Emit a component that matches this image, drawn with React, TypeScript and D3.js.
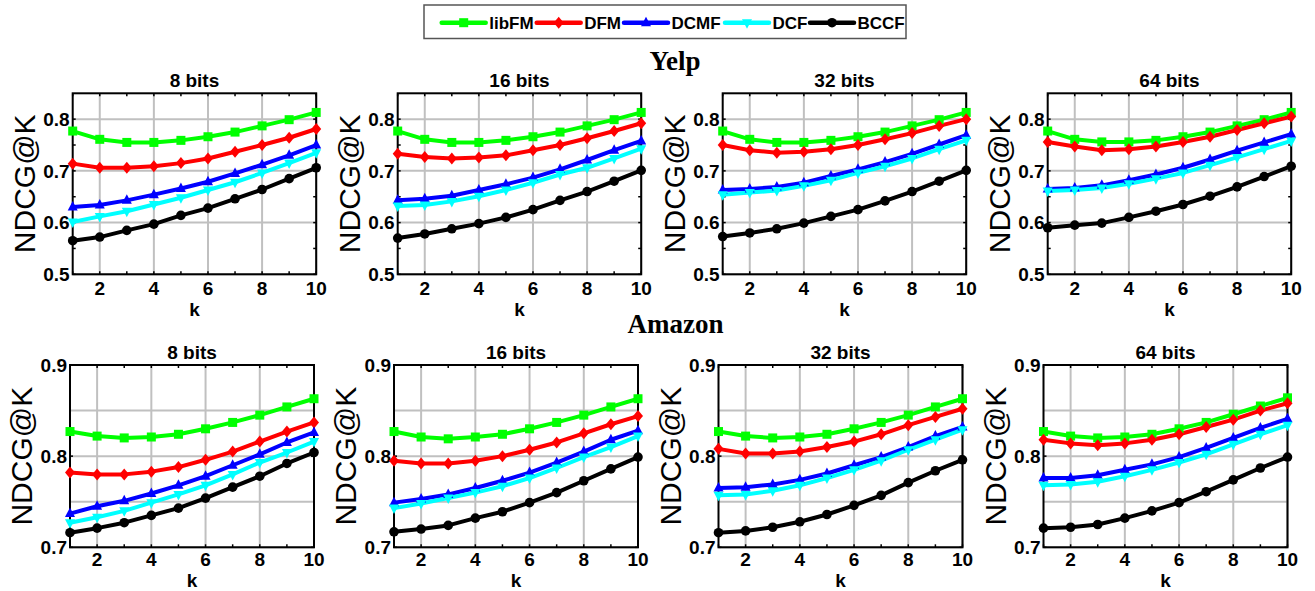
import React from "react";
import * as d3 from "d3";

const ks = [1, 2, 3, 4, 5, 6, 7, 8, 9, 10];
const methods = ["libFM", "DFM", "DCMF", "DCF", "BCCF"];
const colors = ["#00ff00", "#ff0000", "#0000ff", "#00ffff", "#000000"];
const bitLabels = ["8 bits", "16 bits", "32 bits", "64 bits"];
const datasets = ["Yelp", "Amazon"];
const yelpTicks = [0.5, 0.6, 0.7, 0.8];
const yelpMinor = [0.55, 0.65, 0.75];
const amazonTicks = [0.7, 0.8, 0.9];
const amazonGrid = [0.7, 0.75, 0.8, 0.85, 0.9];
const xTicks = [2, 4, 6, 8, 10];

// Yelp: [bits][method][k]
const yelp8 = [
  [0.777, 0.761, 0.755, 0.755, 0.759, 0.766, 0.775, 0.787, 0.799, 0.813],
  [0.714, 0.706, 0.706, 0.709, 0.715, 0.724, 0.737, 0.75, 0.764, 0.781],
  [0.63, 0.634, 0.643, 0.654, 0.666, 0.679, 0.695, 0.712, 0.73, 0.75],
  [0.601, 0.612, 0.622, 0.635, 0.648, 0.663, 0.678, 0.696, 0.715, 0.735],
  [0.565, 0.572, 0.585, 0.597, 0.614, 0.628, 0.646, 0.664, 0.685, 0.706],
];
const yelp16 = [
  [0.777, 0.761, 0.755, 0.755, 0.759, 0.766, 0.775, 0.787, 0.799, 0.813],
  [0.733, 0.727, 0.724, 0.726, 0.73, 0.74, 0.75, 0.763, 0.777, 0.792],
  [0.643, 0.646, 0.652, 0.663, 0.674, 0.687, 0.703, 0.721, 0.74, 0.758],
  [0.632, 0.634, 0.641, 0.651, 0.663, 0.677, 0.693, 0.706, 0.724, 0.743],
  [0.57, 0.578, 0.588, 0.598, 0.61, 0.625, 0.643, 0.66, 0.68, 0.701],
];
const yelp32 = [
  [0.777, 0.761, 0.755, 0.755, 0.759, 0.766, 0.775, 0.787, 0.799, 0.813],
  [0.75, 0.74, 0.735, 0.737, 0.742, 0.75, 0.761, 0.773, 0.787, 0.8],
  [0.663, 0.665, 0.669, 0.677, 0.69, 0.703, 0.717, 0.733, 0.751, 0.769],
  [0.654, 0.658, 0.662, 0.671, 0.682, 0.696, 0.709, 0.724, 0.742, 0.759],
  [0.573, 0.58, 0.588, 0.599, 0.612, 0.625, 0.642, 0.66, 0.68, 0.701],
];
const yelp64 = [
  [0.777, 0.761, 0.756, 0.756, 0.759, 0.766, 0.775, 0.787, 0.799, 0.813],
  [0.756, 0.747, 0.74, 0.742, 0.747, 0.756, 0.766, 0.779, 0.792, 0.805],
  [0.665, 0.667, 0.672, 0.682, 0.693, 0.706, 0.722, 0.739, 0.755, 0.771],
  [0.661, 0.663, 0.667, 0.675, 0.685, 0.696, 0.711, 0.726, 0.742, 0.758],
  [0.59, 0.595, 0.599, 0.61, 0.622, 0.635, 0.651, 0.669, 0.689, 0.709],
];
const amazon8 = [
  [0.827, 0.822, 0.82, 0.821, 0.824, 0.83, 0.837, 0.845, 0.854, 0.863],
  [0.782, 0.78, 0.78, 0.783, 0.788, 0.796, 0.805, 0.816, 0.827, 0.837],
  [0.737, 0.745, 0.751, 0.759, 0.768, 0.778, 0.79, 0.802, 0.815, 0.826],
  [0.727, 0.733, 0.74, 0.749, 0.758, 0.768, 0.78, 0.793, 0.804, 0.816],
  [0.716, 0.721, 0.727, 0.735, 0.743, 0.754, 0.766, 0.778, 0.792, 0.804],
];
const amazon16 = [
  [0.827, 0.821, 0.819, 0.821, 0.824, 0.83, 0.837, 0.845, 0.854, 0.863],
  [0.795, 0.792, 0.792, 0.795, 0.8, 0.807, 0.815, 0.825, 0.835, 0.844],
  [0.749, 0.753, 0.758, 0.765, 0.773, 0.782, 0.793, 0.805, 0.818, 0.828],
  [0.743, 0.748, 0.754, 0.76, 0.767, 0.776, 0.787, 0.799, 0.81, 0.822],
  [0.717, 0.72, 0.724, 0.732, 0.739, 0.749, 0.76, 0.773, 0.786, 0.799],
];
const amazon32 = [
  [0.827, 0.822, 0.82, 0.821, 0.824, 0.83, 0.837, 0.845, 0.854, 0.863],
  [0.808, 0.803, 0.803, 0.805, 0.81, 0.816, 0.824, 0.834, 0.843, 0.852],
  [0.765, 0.766, 0.769, 0.774, 0.781, 0.79, 0.799, 0.81, 0.822, 0.832],
  [0.757, 0.758, 0.762, 0.768, 0.776, 0.785, 0.795, 0.807, 0.818, 0.829],
  [0.716, 0.718, 0.722, 0.728, 0.736, 0.746, 0.757, 0.771, 0.784, 0.796],
];
const amazon64 = [
  [0.827, 0.822, 0.82, 0.821, 0.824, 0.83, 0.837, 0.846, 0.855, 0.864],
  [0.818, 0.814, 0.812, 0.814, 0.818, 0.824, 0.832, 0.84, 0.85, 0.858],
  [0.776, 0.776, 0.779, 0.785, 0.791, 0.799, 0.809, 0.82, 0.831, 0.841],
  [0.768, 0.769, 0.772, 0.778, 0.785, 0.793, 0.802, 0.813, 0.824, 0.834],
  [0.721, 0.722, 0.725, 0.732, 0.74, 0.749, 0.761, 0.774, 0.787, 0.799],
];

const yelpData = [yelp8, yelp16, yelp32, yelp64];
const amazonData = [amazon8, amazon16, amazon32, amazon64];

const SANS = "'Liberation Sans', Arial, sans-serif";
const SERIF = "'Liberation Serif', 'Times New Roman', serif";
const GRID = "#c0c0c0";

function Marker({ i, x, y }: { i: number; x: number; y: number }) {
  const c = colors[i];
  if (i === 0) return <rect x={x - 4.5} y={y - 4.5} width={9} height={9} fill={c} />;
  if (i === 1)
    return <path d={`M${x},${y - 6}L${x + 5},${y}L${x},${y + 6}L${x - 5},${y}Z`} fill={c} />;
  if (i === 2)
    return <path d={`M${x},${y - 6}L${x + 5},${y + 3.5}L${x - 5},${y + 3.5}Z`} fill={c} />;
  if (i === 3)
    return <path d={`M${x},${y + 6}L${x + 5},${y - 3.5}L${x - 5},${y - 3.5}Z`} fill={c} />;
  return <circle cx={x} cy={y} r={4.8} fill={c} />;
}

type PanelProps = {
  left: number;
  top: number;
  width: number;
  height: number;
  domain: [number, number];
  ticks: number[];
  grid: number[];
  minor: number[];
  data: number[][];
  title: string;
  tickOff: number;
  kOff: number;
};

function Panel(p: PanelProps) {
  const x = d3.scaleLinear().domain([1, 10]).range([p.left, p.left + p.width]);
  const y = d3.scaleLinear().domain(p.domain).range([p.top + p.height, p.top]);
  const line = d3
    .line<number>()
    .x((_, j) => x(ks[j]))
    .y((v) => y(v));
  const bottom = p.top + p.height;
  const right = p.left + p.width;
  return (
    <g>
      {xTicks.map((t) => (
        <line key={"gx" + t} x1={x(t)} x2={x(t)} y1={p.top} y2={bottom} stroke={GRID} strokeWidth={2} />
      ))}
      {p.grid.map((t) => (
        <line key={"gy" + t} x1={p.left} x2={right} y1={y(t)} y2={y(t)} stroke={GRID} strokeWidth={2} />
      ))}
      {ks.map((t) => (
        <g key={"xt" + t}>
          <line x1={x(t)} x2={x(t)} y1={bottom} y2={bottom - 3} stroke="#000" strokeWidth={1.5} />
          <line x1={x(t)} x2={x(t)} y1={p.top} y2={p.top + 3} stroke="#000" strokeWidth={1.5} />
        </g>
      ))}
      {[...p.ticks, ...p.minor].map((t) => (
        <g key={"yt" + t}>
          <line x1={p.left} x2={p.left + 3} y1={y(t)} y2={y(t)} stroke="#000" strokeWidth={1.5} />
          <line x1={right} x2={right - 3} y1={y(t)} y2={y(t)} stroke="#000" strokeWidth={1.5} />
        </g>
      ))}
      <rect x={p.left} y={p.top} width={p.width} height={p.height} fill="none" stroke="#000" strokeWidth={2} />
      {p.ticks.map((t) => (
        <text key={"yl" + t} x={p.left - 3} y={y(t) + 6.8} textAnchor="end" fontFamily={SANS} fontWeight="bold" fontSize={19}>
          {t.toFixed(1)}
        </text>
      ))}
      {xTicks.map((t) => (
        <text key={"xl" + t} x={x(t)} y={bottom + p.tickOff} textAnchor="middle" fontFamily={SANS} fontWeight="bold" fontSize={19}>
          {t}
        </text>
      ))}
      <text x={(p.left + right) / 2} y={bottom + p.kOff} textAnchor="middle" fontFamily={SANS} fontWeight="bold" fontSize={19}>
        k
      </text>
      <text x={(p.left + right) / 2} y={p.top - 6} textAnchor="middle" fontFamily={SANS} fontWeight="bold" fontSize={19}>
        {p.title}
      </text>
      <text
        transform={`translate(${p.left - 38},${p.top + p.height / 2}) rotate(-90)`}
        textAnchor="middle"
        fontFamily={SANS}
        fontSize={30}
      >
        NDCG@K
      </text>
      {p.data.map((s, i) => (
        <path key={"l" + i} d={line(s) || ""} fill="none" stroke={colors[i]} strokeWidth={4} strokeLinejoin="round" />
      ))}
      {p.data.map((s, i) => (
        <g key={"m" + i}>
          {s.map((v, j) => (
            <Marker key={j} i={i} x={x(ks[j])} y={y(v)} />
          ))}
        </g>
      ))}
    </g>
  );
}

const topLefts = [72.7, 397.7, 722.7, 1047.7];
const botLefts = [70, 394, 718.5, 1043.5];
const legendStarts = [441.7, 536.7, 624, 725, 810];

export default function App() {
  return (
    <svg
      width={1315}
      height={591}
      style={{ position: "absolute", left: 0, top: 0, background: "#fff" }}
    >
      <rect x={0} y={0} width={1315} height={591} fill="#fff" />
      <rect x={424} y={5} width={482} height={33.5} fill="#fff" stroke="#555" strokeWidth={1.5} />
      {methods.map((m, i) => {
        const x0 = legendStarts[i];
        return (
          <g key={m}>
            <line x1={x0} x2={x0 + 44} y1={22.7} y2={22.7} stroke={colors[i]} strokeWidth={4.5} strokeLinecap="round" />
            <Marker i={i} x={x0 + 22} y={22.7} />
            <text x={x0 + 47.5} y={28.8} fontFamily={SANS} fontWeight="bold" fontSize={17}>
              {m}
            </text>
          </g>
        );
      })}
      <text x={675} y={70} textAnchor="middle" fontFamily={SERIF} fontWeight="bold" fontSize={27}>
        {datasets[0]}
      </text>
      <text x={675.5} y={333.3} textAnchor="middle" fontFamily={SERIF} fontWeight="bold" fontSize={27}>
        {datasets[1]}
      </text>
      {bitLabels.map((b, i) => (
        <Panel
          key={"y" + b}
          left={topLefts[i]}
          top={93.3}
          width={243.5}
          height={181}
          domain={[0.5, 0.85]}
          ticks={yelpTicks}
          grid={yelpTicks}
          minor={yelpMinor}
          data={yelpData[i]}
          title={b}
          tickOff={21}
          kOff={41.5}
        />
      ))}
      {bitLabels.map((b, i) => (
        <Panel
          key={"a" + b}
          left={botLefts[i]}
          top={365}
          width={244}
          height={182.3}
          domain={[0.7, 0.9]}
          ticks={amazonTicks}
          grid={amazonGrid}
          minor={[]}
          data={amazonData[i]}
          title={b}
          tickOff={18.5}
          kOff={39.5}
        />
      ))}
    </svg>
  );
}
